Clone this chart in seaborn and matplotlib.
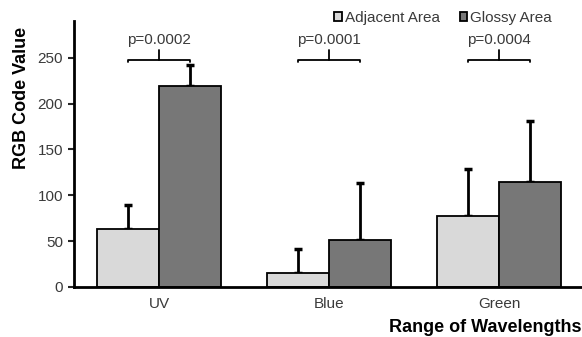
import numpy as np
import pandas as pd
import matplotlib
matplotlib.use("Agg")
import matplotlib.pyplot as plt
import seaborn as sns
from matplotlib.patches import Patch

# values
categories = ["UV", "Blue", "Green"]
groups = ["Adjacent Area", "Glossy Area"]
adjacent_mean = [63, 15, 77]
adjacent_sd = [26, 26, 52]
glossy_mean = [219, 51, 114]
glossy_sd = [23, 62, 67]
p_values = ["p=0.0002", "p=0.0001", "p=0.0004"]
bracket_y = 248

sns.set_style("white")
plt.rcParams["font.family"] = ["Liberation Sans", "DejaVu Sans"]

df = pd.DataFrame({
    "Range": categories * 2,
    "Group": [groups[0]] * 3 + [groups[1]] * 3,
    "Value": adjacent_mean + glossy_mean,
})
colors = {"Adjacent Area": "#d9d9d9", "Glossy Area": "#777777"}
txt = "#3a3a3a"

fig = plt.figure(figsize=(5.82, 3.37), dpi=100)
ax = fig.add_axes([74 / 582, 1 - 287 / 337, 510 / 582, 266 / 337])

sns.barplot(data=df, x="Range", y="Value", hue="Group", palette=colors,
            width=0.73, errorbar=None, edgecolor="black", linewidth=1.3,
            legend=False, ax=ax, zorder=3)

# bar centres from the drawn patches (hue order: adjacent first, then glossy)
patches = [p for p in ax.patches if p.get_height() > 0]
centres = [p.get_x() + p.get_width() / 2 for p in patches]
adj_x = centres[:3]
glo_x = centres[3:]

for xs, m, s in [(adj_x, adjacent_mean, adjacent_sd), (glo_x, glossy_mean, glossy_sd)]:
    ax.errorbar(xs, m, yerr=[np.zeros(3), s], fmt="none", ecolor="black",
                elinewidth=2, capsize=3, capthick=2.5, zorder=2)

# significance brackets
for i in range(3):
    x0, x1 = adj_x[i], glo_x[i]
    xm = (x0 + x1) / 2
    ax.plot([x0, x0, x1, x1], [bracket_y - 3, bracket_y, bracket_y, bracket_y - 3],
            color="black", lw=1.3, clip_on=False)
    ax.plot([xm, xm], [bracket_y, bracket_y + 10], color="black", lw=1.3, clip_on=False)
    ax.text(xm, 262, p_values[i], ha="center", va="bottom", fontsize=11, color=txt)

ax.set_xlim(-0.5, 2.5)
ax.set_ylim(0, 290)
ax.set_yticks([0, 50, 100, 150, 200, 250])
sns.despine(ax=ax)
for sp in ["left", "bottom"]:
    ax.spines[sp].set_linewidth(2)
    ax.spines[sp].set_color("black")
    ax.spines[sp].set_zorder(4)
ax.tick_params(axis="y", direction="out", length=4, width=1.5, pad=4,
               labelsize=11, labelcolor=txt, left=True)
ax.tick_params(axis="x", length=0, pad=7, labelsize=11, labelcolor=txt)

ax.set_ylabel("RGB Code Value", fontsize=13, fontweight="bold", color="black",
              va="center")
ax.yaxis.set_label_coords(-0.102, 0.71)
ax.set_xlabel("Range of Wavelengths", fontsize=13, fontweight="bold", color="black")
ax.xaxis.set_label_coords(0.996, -0.152)
ax.xaxis.label.set_horizontalalignment("right")
ax.xaxis.label.set_verticalalignment("center")

handles = [Patch(facecolor=colors[g], edgecolor="black", linewidth=1.3, label=g) for g in groups]
fig.legend(handles=handles, loc="center", bbox_to_anchor=(443 / 582, 1 - 18 / 337),
           ncol=2, frameon=False, fontsize=11, handlelength=0.5, handleheight=0.5,
           handletextpad=0.2, columnspacing=1.3, borderpad=0, labelcolor=txt)

fig.savefig("out.png", dpi=100)
